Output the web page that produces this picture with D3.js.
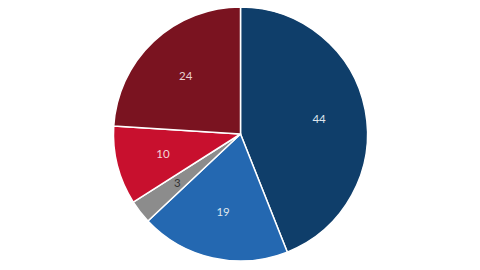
<!DOCTYPE html>
<html>
<head>
<meta charset="utf-8">
<script src="https://cdn.jsdelivr.net/npm/d3@7"></script>
<style>
  html, body { margin: 0; padding: 0; background: #fff; }
  svg { display: block; }
</style>
</head>
<body>
<svg id="chart"></svg>
<script>
const width = 480;
const height = 270;

// slice data, clockwise from 12 o'clock
const labels = ["A", "B", "C", "D", "E"];
const values = [44, 19, 3, 10, 24];
const colors = ["#0f3e6a", "#2468b1", "#8c8c8c", "#c8102e", "#7a1320"];
const textColors = ["#dfe6ee", "#dfe6ee", "#333333", "#f2d6d8", "#e8d0d2"];

const cx = 240.5;
const cy = 134;
const radius = 127;
const labelRadius = 80;

const svg = d3.select("#chart")
  .attr("width", width)
  .attr("height", height);

const g = svg.append("g")
  .attr("transform", `translate(${cx}, ${cy})`);

const pie = d3.pie().sort(null).value(d => d.value);
const arc = d3.arc().innerRadius(0).outerRadius(radius);
const labelArc = d3.arc().innerRadius(labelRadius).outerRadius(labelRadius);

const data = labels.map((l, i) => ({ label: l, value: values[i], i }));

const arcs = pie(data);

g.selectAll("path")
  .data(arcs)
  .enter()
  .append("path")
  .attr("d", arc)
  .attr("fill", d => colors[d.data.i])
  .attr("stroke", "#fff")
  .attr("stroke-width", 1.5)
  .attr("stroke-linejoin", "round");

// value labels
g.selectAll("text")
  .data(arcs)
  .enter()
  .append("text")
  .attr("transform", d => `translate(${labelArc.centroid(d)})`)
  .attr("text-anchor", "middle")
  .attr("dy", "0.35em")
  .attr("fill", d => textColors[d.data.i])
  .style("font-family", "Lato, 'Open Sans', sans-serif")
  .style("font-size", "11.5px")
  .text(d => d.data.value);
</script>
</body>
</html>
